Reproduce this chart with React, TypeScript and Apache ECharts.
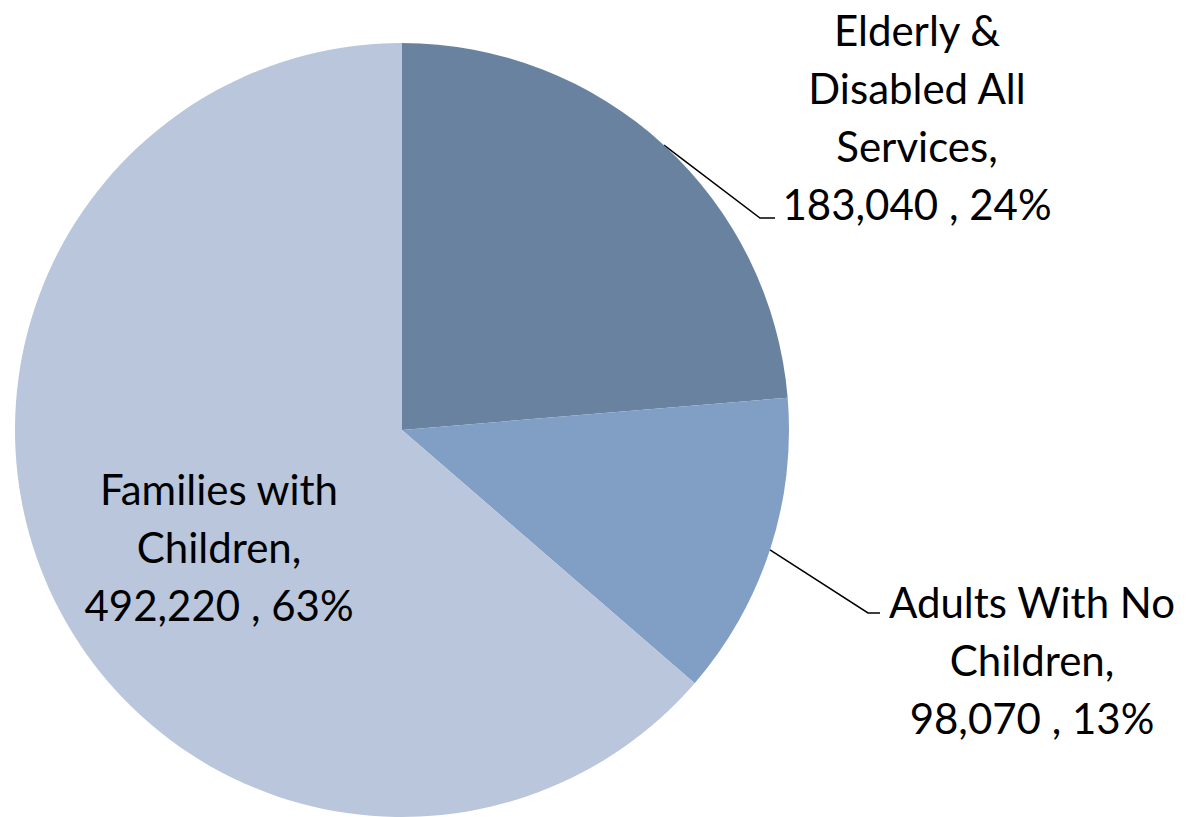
import React, { useEffect, useRef } from "react";
import * as echarts from "echarts";

const categories = [
  "Elderly &\nDisabled All\nServices",
  "Adults With No\nChildren",
  "Families with\nChildren",
];
const values = [183040, 98070, 492220];
const percentLabels = ["24%", "13%", "63%"];
const colors = ["#6882A0", "#819FC4", "#B9C6DB"];

// label block centres and leader-line elbows (screen layout)
const labelCenters: [number, number][] = [
  [917, 117],
  [1032, 660],
  [219, 547],
];
const elbows: ([number, number] | null)[] = [
  [760, 218],
  [868, 613],
  null,
];
const elbowEnds: (number | null)[] = [775, 880, null];

export default function App() {
  const ref = useRef<HTMLDivElement>(null);
  useEffect(() => {
    document.body.style.margin = "0";
    const chart = echarts.init(ref.current!, null, { renderer: "svg" });
    chart.setOption({
      animation: false,
      backgroundColor: "#ffffff",
      series: [
        {
          type: "pie",
          center: [402, 430],
          radius: 387,
          startAngle: 90,
          clockwise: true,
          avoidLabelOverlap: false,
          itemStyle: { borderWidth: 0 },
          label: {
            show: true,
            position: "outside",
            fontFamily: "Lato",
            fontSize: 42,
            lineHeight: 58,
            color: "#000000",
            align: "center",
            formatter: (p: any) =>
              `${p.name},\n${p.value.toLocaleString("en-US")} , ${percentLabels[p.dataIndex]}`,
          },
          labelLine: {
            show: true,
            lineStyle: { color: "#000000", width: 1.5 },
          },
          emphasis: { disabled: true },
          labelLayout: (params: any) => {
            const i = params.dataIndex;
            const [cx, cy] = labelCenters[i];
            const res: any = { x: cx, y: cy, align: "center", verticalAlign: "middle" };
            const elbow = elbows[i];
            if (elbow && params.labelLinePoints) {
              const p0 = params.labelLinePoints[0];
              res.labelLinePoints = [p0, elbow, [elbowEnds[i], elbow[1]]];
            }
            return res;
          },
          data: categories.map((name, i) => ({
            name,
            value: values[i],
            itemStyle: { color: colors[i] },
            ...(i === 2
              ? { label: { position: "inside" }, labelLine: { show: false } }
              : {}),
          })),
        },
      ],
    });
    return () => chart.dispose();
  }, []);
  return <div ref={ref} style={{ width: 1194, height: 817 }} />;
}
